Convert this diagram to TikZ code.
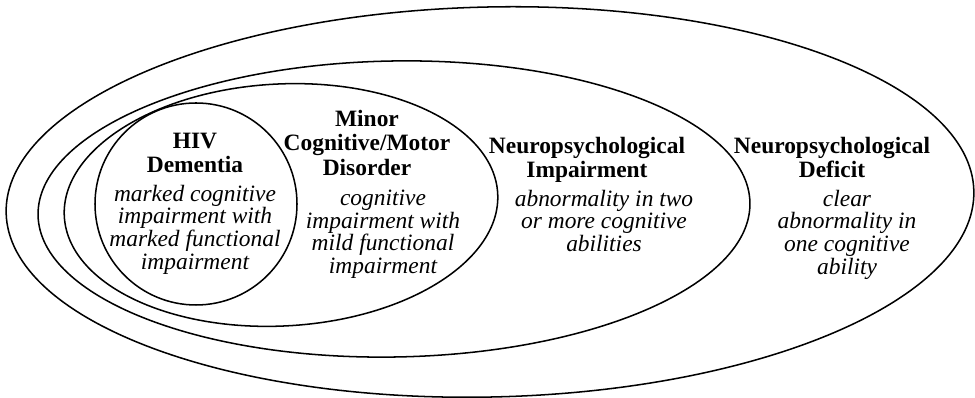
\documentclass[tikz,border=0pt]{standalone}
\usepackage{fontspec}
\setmainfont{Liberation Serif}
\usetikzlibrary{positioning}
\newcommand{\drawrings}[1] {
    \foreach \cx/\cy/\rx/\ry/\rot in #1 {
      \draw[rotate around={\rot:(\cx,\cy)}] (\cx,\cy) ellipse ({\rx} and {\ry});
    }
}

\begin{document}
\begin{tikzpicture}[x=0.3mm, y=0.3mm, line width=1.3pt,
    head/.style={font=\fontsize{20}{21}\selectfont\bfseries, align=center, anchor=north, inner sep=0pt},
    body/.style={font=\fontsize{20}{19.5}\selectfont\itshape, align=center, anchor=north, inner sep=0pt}]
    \useasboundingbox (0,0) rectangle (975,398);
    % innermost first, outer deficit ring last
    \drawrings{{196/194/101/101/0, 281/193/217/121/3, 394/189/356/148/1, 490/196/484/195/1.3}}
    \node[head] (hivhead) at (195,266) {HIV\\Dementia};
    \node[body] (hivbody) at (195,214) {marked cognitive\\impairment with\\marked functional\\impairment};
    \node[head] (minorhead) at (367,289) {Minor\\Cognitive/Motor\\Disorder};
    \node[body] (minorbody) at (383,209) {cognitive\\impairment with\\mild functional\\impairment};
    \node[head] (imphead) at (587,262) {Neuropsychological\\Impairment};
    \node[body] (impbody) at (604,209) {abnormality in two\\or more cognitive\\abilities};
    \node[head] (defhead) at (832,262) {Neuropsychological\\Deficit};
    \node[body] (defbody) at (847,209) {clear\\abnormality in\\one cognitive\\ability};
\end{tikzpicture}
\end{document}
